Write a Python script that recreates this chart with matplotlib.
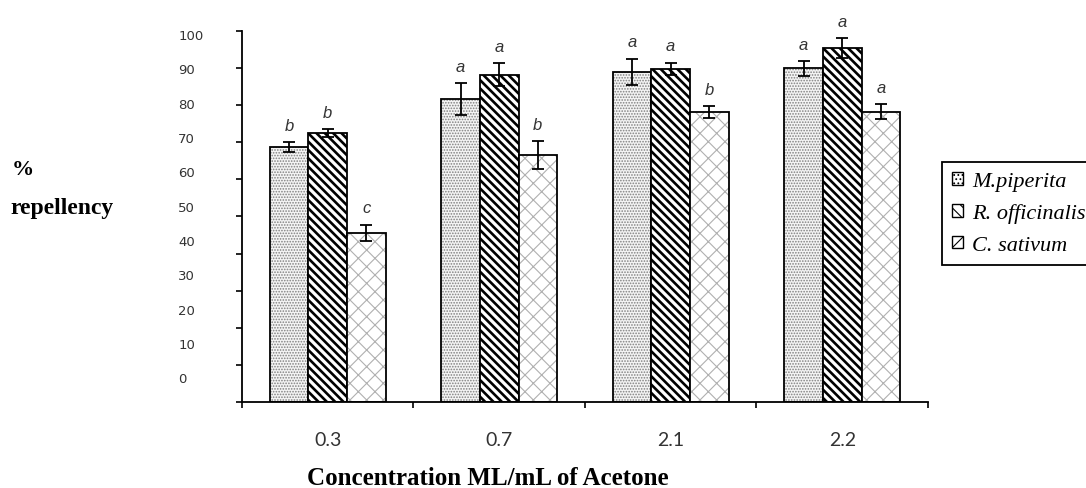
import matplotlib
matplotlib.use('Agg')
import matplotlib.pyplot as plt
from matplotlib.patches import Patch

# data
concentrations = ['0.3', '0.7', '2.1', '2.2']
species = ['M.piperita', 'R. officinalis', 'C. sativum']
piperita = [68.7, 81.6, 89.0, 89.9]
piperita_err = [1.4, 4.3, 3.5, 2.0]
officinalis = [72.5, 88.2, 89.8, 95.3]
officinalis_err = [1.0, 3.1, 1.6, 2.6]
sativum = [45.6, 66.5, 78.0, 78.2]
sativum_err = [2.2, 3.8, 1.6, 2.0]
piperita_letters = ['b', 'a', 'a', 'a']
officinalis_letters = ['b', 'a', 'a', 'a']
sativum_letters = ['c', 'b', 'b', 'a']
ytick_labels = ['0', '10', '20', '30', '40', '50', '60', '70', '80', '90', '100']

plt.rcParams['hatch.linewidth'] = 0.8

fig = plt.figure(figsize=(10.86, 4.89), dpi=100)
ax = fig.add_axes([0.2228, 0.1753, 0.6317, 0.7599])

x = list(range(len(concentrations)))
w = 0.225
xp = [i - w for i in x]
xo = x
xs = [i + w for i in x]

# M. piperita: grey stipple with black outline
ax.bar(xp, piperita, w, color='#f4f4f4', edgecolor='#808080', hatch='......', linewidth=0, zorder=2)
ax.bar(xp, piperita, w, fill=False, edgecolor='black', linewidth=1.3, zorder=2)
# R. officinalis: heavy black stripes
with plt.rc_context({'hatch.linewidth': 1.9}):
    ax.bar(xo, officinalis, w, color='white', edgecolor='black', hatch='\\\\\\\\', linewidth=1.3, zorder=2)
# C. sativum: light lattice
ax.bar(xs, sativum, w, color='white', edgecolor='#b0b0b0', hatch='xx', linewidth=0, zorder=2)
ax.bar(xs, sativum, w, fill=False, edgecolor='black', linewidth=1.3, zorder=2)

for pos, vals, errs, letters in [(xp, piperita, piperita_err, piperita_letters),
                                 (xo, officinalis, officinalis_err, officinalis_letters),
                                 (xs, sativum, sativum_err, sativum_letters)]:
    ax.errorbar(pos, vals, yerr=errs, fmt='none', ecolor='black', elinewidth=1.3,
                capsize=4.5, capthick=1.3, zorder=3)
    for px, v, e, t in zip(pos, vals, errs, letters):
        ax.text(px, v + e + 4.5, t, ha='center', va='center', fontsize=12,
                style='italic', family='Liberation Sans', color='#333333')

ax.set_xlim(-0.5, 3.5)
ax.set_ylim(0, 100)
for s in ['top', 'right']:
    ax.spines[s].set_visible(False)
for s in ['left', 'bottom']:
    ax.spines[s].set_linewidth(1.3)

# ticks: marks at 10-unit steps, labels sit a little off as in the original
ax.set_yticks(range(0, 101, 10), labels=[])
ax.set_yticks([6.7 + 0.924 * int(t) for t in ytick_labels], ytick_labels, minor=True)
ax.tick_params(axis='y', which='major', direction='out', length=4, width=1.2)
ax.tick_params(axis='y', which='minor', length=0, pad=46, labelsize=9.5, labelcolor='#333333')
for lab in ax.get_yticklabels(minor=True):
    lab.set_horizontalalignment('left')

ax.set_xticks([i - 0.5 for i in range(len(concentrations) + 1)], labels=[])
ax.set_xticks(x, concentrations, minor=True)
ax.tick_params(axis='x', which='major', direction='out', length=4, width=1.2)
ax.tick_params(axis='x', which='minor', length=0, pad=21, labelsize=14, labelcolor='#333333')
for lab in ax.get_xticklabels(minor=True):
    lab.set_family('Lato')

fig.text(0.011, 0.652, '%', family='Liberation Serif', weight='bold', fontsize=16, va='center')
fig.text(0.0092, 0.5726, 'repellency', family='Liberation Serif', weight='bold', fontsize=17, va='center')
fig.text(0.2827, 0.008, 'Concentration ML/mL of Acetone', family='Liberation Serif',
         weight='bold', fontsize=18, va='baseline')

handles = [Patch(facecolor='white', edgecolor='black', hatch='....', linewidth=1),
           Patch(facecolor='white', edgecolor='black', hatch='\\\\\\', linewidth=1),
           Patch(facecolor='white', edgecolor='black', hatch='x', linewidth=1)]
leg = fig.legend(handles, species, loc='upper left', bbox_to_anchor=(942 / 1086, 1 - 163 / 489),
                 prop={'family': 'Liberation Serif', 'style': 'italic', 'size': 16},
                 handlelength=0.5, handleheight=0.5, handletextpad=0.4, borderpad=0.45,
                 labelspacing=0.55, borderaxespad=0, fancybox=False, framealpha=1,
                 edgecolor='black')
leg.get_frame().set_linewidth(1.3)

plt.savefig('out.png', dpi=100, facecolor='white')
